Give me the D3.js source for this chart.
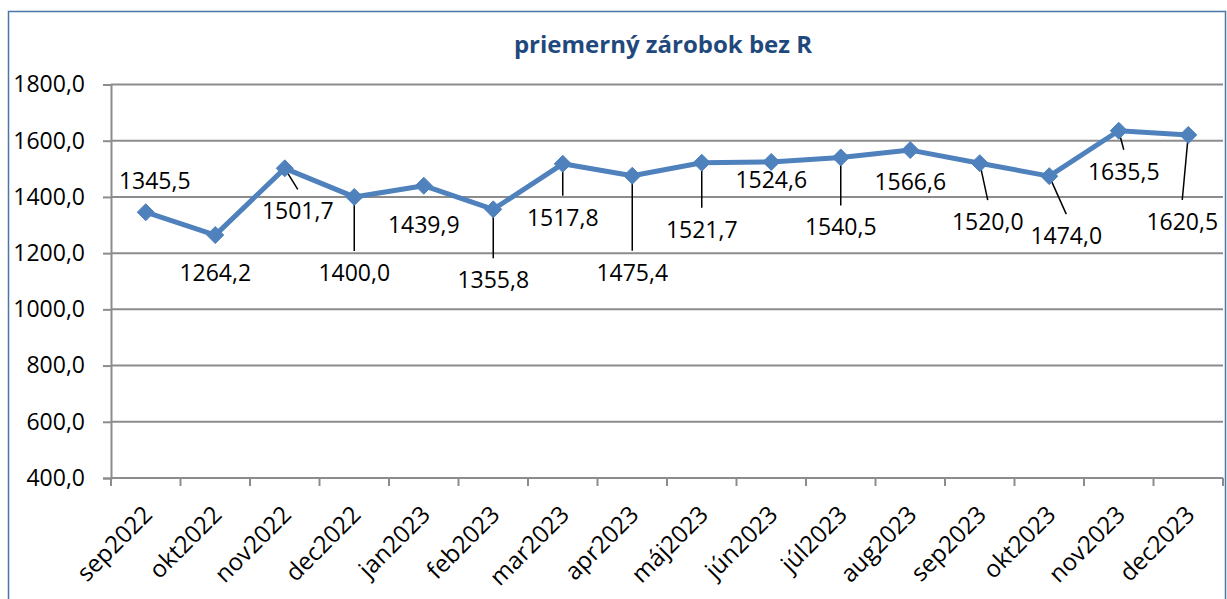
<!DOCTYPE html>
<html>
<head>
<meta charset="utf-8">
<script src="https://cdn.jsdelivr.net/npm/d3@7"></script>
<style>
	body { margin: 0; background: #fff; }
	text { font-family: "Open Sans", "Noto Sans", sans-serif; }
</style>
</head>
<body>
<svg id="chart" width="1227" height="599"></svg>
<script>
var width = 1227,
	height = 599;

// data
var months = ["sep2022", "okt2022", "nov2022", "dec2022", "jan2023", "feb2023", "mar2023", "apr2023",
	"máj2023", "jún2023", "júl2023", "aug2023", "sep2023", "okt2023", "nov2023", "dec2023"];
var wages = [1345.5, 1264.2, 1501.7, 1400.0, 1439.9, 1355.8, 1517.8, 1475.4,
	1521.7, 1524.6, 1540.5, 1566.6, 1520.0, 1474.0, 1635.5, 1620.5];
var yTicks = [400, 600, 800, 1000, 1200, 1400, 1600, 1800];
var title = "priemerný zárobok bez R";

// where each data label sits relative to its point (px), and whether it has a leader line
var labelDx = [9, 0, 13, 0, 0, 0, 0, 0, 0, 0, 0, 0, 8, 17, 5, -6];
var labelDy = [-31, 38, 43, 76, 39, 71, 54, 97, 67, 18, 70, 32, 59, 60, 41, 87];
var leader = [false, false, true, true, false, true, true, true, true, false, true, false, true, true, true, true];

var margin = { left: 111, right: 4, top: 84.5, bottom: 121 };

var svg = d3.select("#chart");

var x = d3.scaleBand()
	.domain(months)
	.range([margin.left, width - margin.right]);

var y = d3.scaleLinear()
	.domain([400, 1800])
	.range([height - margin.bottom, margin.top]);

var fmt = function(v) { return d3.format(".1f")(v).replace(".", ","); };
var cx = function(i) { return x(months[i]) + x.bandwidth() / 2; };

// outer frame
svg.append("rect")
	.attr("x", 8.5)
	.attr("y", 11.5)
	.attr("width", 1217)
	.attr("height", 620)
	.attr("fill", "none")
	.attr("stroke", "#4a76a8")
	.attr("stroke-width", 1.5);

// title
svg.append("text")
	.attr("x", 663)
	.attr("y", 53)
	.attr("text-anchor", "middle")
	.attr("font-size", 24)
	.attr("font-weight", "bold")
	.attr("fill", "#1f497d")
	.text(title);

// gridlines
svg.append("g")
	.selectAll("line")
	.data(yTicks.slice(1))
.enter().append("line")
	.attr("x1", margin.left)
	.attr("x2", width - margin.right)
	.attr("y1", function(d) { return y(d); })
	.attr("y2", function(d) { return y(d); })
	.attr("stroke", "#8c8c8c")
	.attr("stroke-width", 2);

// y axis
var yAxis = svg.append("g")
	.attr("transform", "translate(" + margin.left + ",0)")
	.call(d3.axisLeft(y).tickValues(yTicks).tickFormat(fmt).tickSizeOuter(0).tickSize(8).tickPadding(18));

yAxis.select(".domain")
	.attr("stroke", "#8c8c8c")
	.attr("stroke-width", 2);
yAxis.selectAll(".tick line")
	.attr("stroke", "#8c8c8c")
	.attr("stroke-width", 2);
yAxis.selectAll(".tick text")
	.attr("font-size", 23)
	.attr("font-family", "Open Sans, sans-serif")
	.attr("fill", "#000");

// x axis: ticks on category boundaries
var xAxis = svg.append("g")
	.attr("transform", "translate(0," + y(400) + ")");

xAxis.append("line")
	.attr("x1", margin.left)
	.attr("x2", width - margin.right)
	.attr("stroke", "#8c8c8c")
	.attr("stroke-width", 2);

xAxis.selectAll(".tick")
	.data(d3.range(months.length + 1))
.enter().append("line")
	.attr("class", "tick")
	.attr("x1", function(i) { return margin.left + i * x.step(); })
	.attr("x2", function(i) { return margin.left + i * x.step(); })
	.attr("y1", 0)
	.attr("y2", 8)
	.attr("stroke", "#8c8c8c")
	.attr("stroke-width", 2);

xAxis.selectAll("text")
	.data(months)
.enter().append("text")
	.attr("transform", function(d) {
		return "translate(" + (x(d) + x.bandwidth() / 2 + 8) + ",38) rotate(-45)";
	})
	.attr("text-anchor", "end")
	.attr("font-size", 24)
	.attr("fill", "#000")
	.text(function(d) { return d; });

// leader lines
svg.append("g")
	.selectAll("line")
	.data(d3.range(wages.length).filter(function(i) { return leader[i]; }))
.enter().append("line")
	.attr("x1", function(i) { return cx(i); })
	.attr("y1", function(i) { return y(wages[i]); })
	.attr("x2", function(i) { return cx(i) + labelDx[i]; })
	.attr("y2", function(i) { return y(wages[i]) + labelDy[i] - 22; })
	.attr("stroke", "#000")
	.attr("stroke-width", 1.5);

// series line
var line = d3.line()
	.x(function(d, i) { return cx(i); })
	.y(function(d) { return y(d); });

svg.append("path")
	.datum(wages)
	.attr("d", line)
	.attr("fill", "none")
	.attr("stroke", "#4f81bd")
	.attr("stroke-width", 5)
	.attr("stroke-linejoin", "round");

// diamond markers
svg.append("g")
	.selectAll("path")
	.data(wages)
.enter().append("path")
	.attr("transform", function(d, i) { return "translate(" + cx(i) + "," + y(d) + ")"; })
	.attr("d", "M0,-8.5L8.5,0L0,8.5L-8.5,0Z")
	.attr("fill", "#4f81bd")
	.attr("stroke", "#4f81bd")
	.attr("stroke-width", 1);

// data labels
svg.append("g")
	.selectAll("text")
	.data(wages)
.enter().append("text")
	.attr("x", function(d, i) { return cx(i) + labelDx[i]; })
	.attr("y", function(d, i) { return y(d) + labelDy[i] + 8; })
	.attr("text-anchor", "middle")
	.attr("font-size", 23)
	.attr("fill", "#000")
	.text(function(d) { return fmt(d); });
</script>
</body>
</html>
